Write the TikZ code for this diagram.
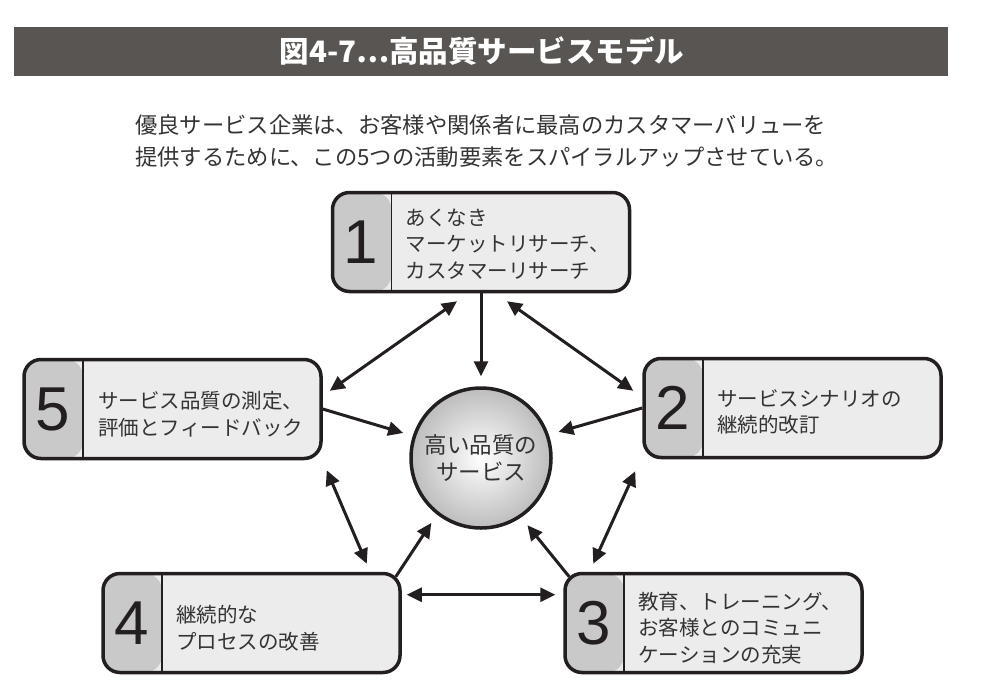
\documentclass[tikz,border=0pt]{standalone}
\usepackage{fontspec}
\setmainfont{Noto Sans CJK JP}
\newfontfamily\numfont{Liberation Sans}
\usetikzlibrary{
    positioning,                      % right=of, below=of, etc.
    arrows.meta,                      % puntas modernas
    calc
}
\definecolor{barGray}{RGB}{89,85,83}
\definecolor{boxGray}{RGB}{236,236,236}
\definecolor{stripGray}{RGB}{201,201,201}
\definecolor{inkDark}{RGB}{35,31,32}
\definecolor{textDark}{RGB}{51,51,51}
\tikzset{
    stage/.style={
        draw=inkDark, line width=3.5pt, fill=boxGray,
        rounded corners=17pt, inner sep=0pt,
        minimum width=297pt, minimum height=99pt,
        path picture={
            \fill[stripGray] (path picture bounding box.north west)
                rectangle ([xshift=59pt]path picture bounding box.south west);
            \draw[inkDark, line width=1.5pt] ([xshift=59pt]path picture bounding box.north west)
                -- ([xshift=59pt]path picture bounding box.south west);
        }
    },
    num/.style={
        font=\numfont\fontsize{62pt}{62pt}\selectfont, text=inkDark, inner sep=0pt
    },
    txt/.style={
        anchor=west, align=left, text=textDark, inner sep=0pt,
        font=\fontsize{20.5pt}{26.5pt}\selectfont
    }
}

\begin{document}
\begin{tikzpicture}[x=1pt, y=-1pt,
        core/.style={circle, draw=inkDark, line width=3.5pt, minimum size=140pt, inner sep=0pt,
            inner color=white, outer color=black!26, align=center, text=textDark,
            font=\fontsize{22.5pt}{27pt}\selectfont},
        flow/.style={-{Triangle[length=15pt,width=14pt]}, line width=3pt, draw=inkDark, shorten >=10pt},
        link/.style={{Triangle[length=15pt,width=14pt]}-{Triangle[length=15pt,width=14pt]}, line width=3pt, draw=inkDark}]
    \useasboundingbox (0,0) rectangle (990,696);

    % titulo y texto
    \fill[barGray] (14,27) rectangle (948,76);
    \node[text=white, font=\bfseries\fontsize{29.5pt}{29.5pt}\selectfont] (title) at (482,51.5) {図4-7⋯高品質サービスモデル};
    \node[anchor=west, align=left, text=textDark, inner sep=0pt,
          font=\fontsize{22.3pt}{32pt}\selectfont] (lead) at (135,141)
        {優良サービス企業は、お客様や関係者に最高のカスタマーバリューを\\提供するために、この5つの活動要素をスパイラルアップさせている。};

    % centro
    \node[core] (core) at (481,458) {高い品質の\\サービス};

    % cinco etapas
    \node[stage] (s1) at (481,242) {};
    \node[stage] (s2) at (792.5,408) {};
    \node[stage] (s3) at (713.5,623) {};
    \node[stage] (s4) at (251.5,623) {};
    \node[stage] (s5) at (172.5,409) {};

    \node[num] (n1) at ([xshift=30pt]s1.west) {1};
    \node[num] (n2) at ([xshift=30pt]s2.west) {2};
    \node[num] (n3) at ([xshift=30pt]s3.west) {3};
    \node[num] (n4) at ([xshift=30pt]s4.west) {4};
    \node[num] (n5) at ([xshift=30pt]s5.west) {5};

    \node[txt] (t1) at ([xshift=75pt,yshift=-2pt]s1.west) {あくなき\\マーケットリサーチ、\\カスタマーリサーチ};
    \node[txt] (t2) at ([xshift=75pt,yshift=-4pt]s2.west) {サービスシナリオの\\継続的改訂};
    \node[txt] (t3) at ([xshift=75pt,yshift=-5pt]s3.west) {教育、トレーニング、\\お客様とのコミュニ\\ケーションの充実};
    \node[txt] (t4) at ([xshift=75pt,yshift=-5pt]s4.west) {継続的な\\プロセスの改善};
    \node[txt] (t5) at ([xshift=76pt,yshift=-5pt]s5.west) {サービス品質の測定、\\評価とフィードバック};

    % flechas
    \draw[flow] (s1.south) -- (core.90);
    \draw[flow] (s5.east) -- (core.162);
    \draw[flow] (s2.west) -- (core.19);
    \draw[flow] ([xshift=-6pt,yshift=-5pt]s4.north east) -- (core.232);
    \draw[flow] ([xshift=6pt,yshift=-5pt]s3.north west) -- (core.304);
    \draw[link] ([xshift=-24pt,yshift=-8pt]s1.south) -- ([xshift=7pt,yshift=-33pt]s5.north east);
    \draw[link] ([xshift=26pt,yshift=-8pt]s1.south) -- ([xshift=-9pt,yshift=-34pt]s2.north west);
    \draw[link] ([xshift=4pt,yshift=-10pt]s5.south east) -- ([xshift=-35pt,yshift=8pt]s4.north east);
    \draw[link] ([xshift=-7pt,yshift=-12pt]s2.south west) -- ([xshift=30pt,yshift=8pt]s3.north west);
    \draw[link] ([xshift=5pt,yshift=-23pt]s4.north east) -- ([xshift=-8pt,yshift=-23pt]s3.north west);
\end{tikzpicture}
\end{document}
